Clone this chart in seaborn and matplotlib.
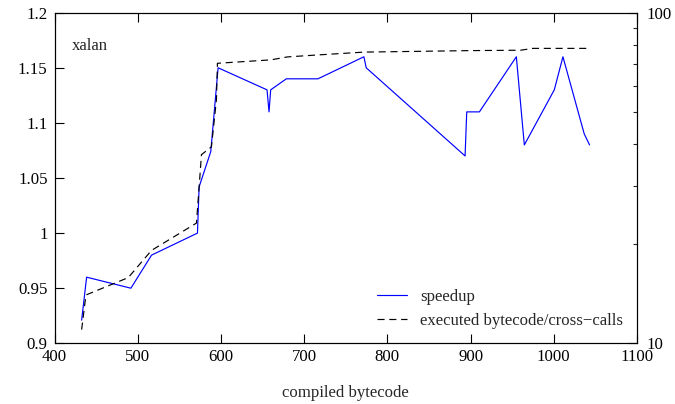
import matplotlib
matplotlib.use("Agg")
import matplotlib.pyplot as plt
import seaborn as sns
import pandas as pd
from matplotlib.lines import Line2D
from matplotlib.ticker import FixedLocator, NullFormatter, FixedFormatter

# speedup (left axis)
sp_x = [432.6, 438.6, 491.8, 516.6, 571.8, 573.8, 587.8, 596.6, 655.4, 657.8, 659.8,
        678.6, 716.6, 771.8, 774.6, 893.4, 895.4, 910.6, 955.0, 964.6, 1000.6, 1011.0,
        1036.6, 1043.0]
sp_y = [0.921, 0.960, 0.950, 0.980, 1.000, 1.042, 1.074, 1.150, 1.130, 1.110, 1.130,
        1.140, 1.140, 1.160, 1.150, 1.070, 1.110, 1.110, 1.160, 1.080, 1.130, 1.160,
        1.090, 1.080]

# executed bytecode / cross-calls (right log axis)
bc_x = [432.6, 437.8, 488.6, 516.6, 570.6, 576.6, 588.6, 594.6, 595.8, 660.0, 680.0,
        716.0, 772.0, 900.0, 960.0, 975.0, 1044.6]
bc_y = [11.0, 14.0, 15.8, 19.1, 23.1, 37.2, 39.3, 54.6, 70.3, 72.0, 73.5,
        74.5, 76.0, 76.8, 77.0, 78.0, 78.0]

x_ticks = [400, 500, 600, 700, 800, 900, 1000, 1100]
y_ticks = [0.9, 0.95, 1.0, 1.05, 1.1, 1.15, 1.2]
y_tick_labels = ["0.9", "0.95", "1", "1.05", "1.1", "1.15", "1.2"]
y2_major = [10, 100]
y2_minor = [20, 30, 40, 50, 60, 70, 80, 90]

FS = 12.1

sns.set_theme(style="ticks")
plt.rcParams['font.family'] = ['Liberation Serif', 'DejaVu Serif']
plt.rcParams['font.size'] = FS
plt.rcParams['axes.linewidth'] = 0.8

fig = plt.figure(figsize=(6.75, 4.04), dpi=100)
ax = fig.add_axes([54.5/675, 1-343.3/404, (637-54.5)/675, (343.3-12.7)/404])
ax2 = ax.twinx()

df1 = pd.DataFrame({"x": sp_x, "y": sp_y})
df2 = pd.DataFrame({"x": bc_x, "y": bc_y})

sns.lineplot(data=df1, x="x", y="y", ax=ax, sort=False, estimator=None,
             color="#0000ff", linewidth=0.85)
sns.lineplot(data=df2, x="x", y="y", ax=ax2, sort=False, estimator=None,
             color="black", linewidth=0.85, dashes=False)
ax2.lines[0].set_dashes((6, 4))

ax.set_xlim(400, 1100)
ax.set_ylim(0.9, 1.2)
ax2.set_yscale("log")
ax2.set_ylim(10, 100)

ax.set_xticks(x_ticks)
ax.set_xticklabels([str(v) for v in x_ticks])
ax.set_yticks(y_ticks)
ax.set_yticklabels(y_tick_labels)
ax.tick_params(axis="x", direction="in", length=6.5, width=0.8, top=True, pad=4,
               labelsize=FS, colors="black")
ax.tick_params(axis="y", direction="in", length=6.5, width=0.8, right=False, pad=5,
               labelsize=FS, colors="black")

ax2.yaxis.set_major_locator(FixedLocator(y2_major))
ax2.yaxis.set_major_formatter(FixedFormatter([str(v) for v in y2_major]))
ax2.yaxis.set_minor_locator(FixedLocator(y2_minor))
ax2.yaxis.set_minor_formatter(NullFormatter())
ax2.tick_params(axis="y", which="major", direction="in", length=6.5, width=0.8, pad=6.5,
                labelsize=FS, colors="black")
ax2.tick_params(axis="y", which="minor", direction="in", length=3, width=0.8)

ax.set_xlabel("compiled bytecode", fontsize=FS, labelpad=14.5)
ax.set_ylabel("")
ax2.set_ylabel("")

for a in (ax, ax2):
    for s in a.spines.values():
        s.set_color("black")
        s.set_linewidth(0.8)
    a.grid(False)

fig.text(71.7/675, 1-46/404, "xalan", ha="left", va="center", fontsize=FS)

handles = [Line2D([], [], color="#0000ff", linewidth=0.85),
           Line2D([], [], color="black", linewidth=0.85, dashes=(6, 4))]
ax2.legend(handles, ["speedup", "executed bytecode/cross\u2212calls"],
           loc="upper left", bbox_to_anchor=(377/675, 1-289/404),
           bbox_transform=fig.transFigure, frameon=False, borderpad=0,
           borderaxespad=0, handlelength=1.8, handletextpad=0.75,
           labelspacing=0.45, fontsize=FS)

fig.savefig("out.png", dpi=100)
